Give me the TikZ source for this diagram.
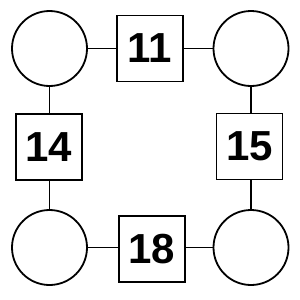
\documentclass[tikz,border=0pt]{standalone}
\usepackage{fontspec}
\setmainfont{Liberation Sans}
\begin{document}
\begin{tikzpicture}[x=1pt,y=-1pt,
  circ/.style={draw,line width=1.8pt,circle,minimum size=75pt,inner sep=0pt},
  sq/.style={draw,line width=1.8pt,rectangle,minimum size=66pt,inner sep=0pt,font=\fontsize{42}{48}\selectfont\bfseries},
  conn/.style={line width=1.8pt}]
\useasboundingbox (0,0) rectangle (300,300);
\node[circ] (c1) at (49.5,48.5) {};
\node[circ] (c2) at (251,48.5) {};
\node[circ] (c3) at (49.5,247.5) {};
\node[circ] (c4) at (251,247.5) {};
\node[sq] (s11) at (150,48.5) {11};
\node[sq] (s14) at (49,147) {14};
\node[sq] (s15) at (249.5,146.5) {15};
\node[sq] (s18) at (152,249) {18};
\draw[conn] (c1) -- (s11);
\draw[conn] (s11) -- (c2);
\draw[conn] (c1.south) -- (s14.north -| c1.south);
\draw[conn] (s14.south -| c3.north) -- (c3.north);
\draw[conn] (c2.south) -- (s15.north -| c2.south);
\draw[conn] (s15.south -| c4.north) -- (c4.north);
\draw[conn] (c3.east) -- (s18.west |- c3.east);
\draw[conn] (s18.east |- c4.west) -- (c4.west);
\end{tikzpicture}
\end{document}
